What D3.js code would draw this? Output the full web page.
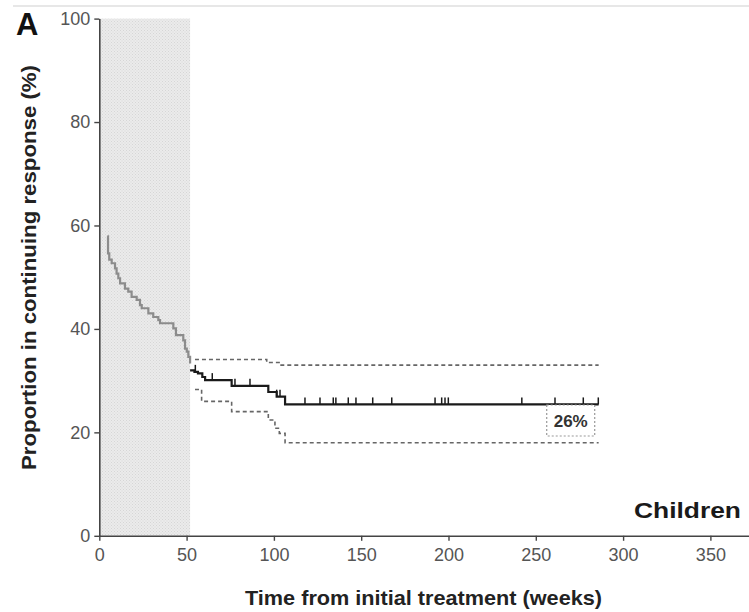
<!DOCTYPE html>
<html><head><meta charset="utf-8">
<script src="https://cdn.jsdelivr.net/npm/d3@7"></script>
<style>body{margin:0;background:#fff}svg{display:block}</style>
</head><body>
<svg id="c" width="749" height="612"></svg>
<script>
// ---- data ----
const xTicks = [0, 50, 100, 150, 200, 250, 300, 350];
const yTicks = [0, 20, 40, 60, 80, 100];
const shadeWeeks = [0, 52];
// early KM segment (gray, inside shaded induction period)
const earlyTimes  = [4.6, 5.0, 5.7, 7.1, 9.0, 9.9, 10.9, 11.9, 14.7, 16.6, 18.5, 21.4, 23.3, 24.3, 28.1, 30.9, 33.8, 34.8, 42.4, 43.9, 48.1, 49.1, 50.1, 51.0, 52.0];
const earlyValues = [57.9, 54.6, 53.4, 52.7, 51.7, 50.7, 49.8, 48.8, 47.8, 47.2, 46.2, 45.6, 44.6, 44.0, 43.0, 42.3, 41.7, 41.1, 40.1, 38.8, 37.8, 36.2, 35.6, 34.6, 33.3];
// later KM segment (black)
const lateTimes  = [52.0, 54.5, 56.5, 59.0, 60.6, 75.8, 96.8, 101.6, 106.4, 286];
const lateValues = [32.0, 31.7, 31.4, 30.7, 30.1, 29.0, 27.8, 26.9, 25.4, 25.4];
// confidence limits
const upperTimes  = [54.8, 95.9, 103.5, 286];
const upperValues = [34.1, 33.5, 33.0, 33.0];
const lowerTimes  = [54.8, 58.6, 75.8, 96.8, 100.6, 103.1, 106.4, 286];
const lowerValues = [28.3, 26.0, 24.0, 22.4, 20.8, 19.8, 18.0, 18.0];
// censoring marks
const censorTimes = [55, 64.7, 77.7, 86.3, 101.6, 103.5, 117.8, 126.4, 134, 135.5, 142.6, 147, 156.6, 167.5, 192.3, 196.1, 198, 199.9, 242, 261, 277.2, 285.8];
const finalLabel = "26%";
const finalLabelAt = [270, 22.2];

// ---- drawing ----
const FONT = "Liberation Sans, Arial, Helvetica, sans-serif";
const svg = d3.select("#c");
const x = d3.scaleLinear().domain([0, 372]).range([99.3, 748.8]);
const y = d3.scaleLinear().domain([0, 100]).range([535.8, 18.6]);

// top thin rule
svg.append("line").attr("x1", 13).attr("x2", 749).attr("y1", 6).attr("y2", 6)
  .attr("stroke", "#cfcfcf").attr("stroke-width", 1);

// shading pattern
const defs = svg.append("defs");
const pat = defs.append("pattern").attr("id", "dots").attr("width", 3).attr("height", 3)
  .attr("patternUnits", "userSpaceOnUse");
pat.append("rect").attr("width", 3).attr("height", 3).attr("fill", "#ebebeb");
pat.append("rect").attr("width", 1).attr("height", 1).attr("fill", "#d6d6d6");
pat.append("rect").attr("x", 1.5).attr("y", 1.5).attr("width", 1).attr("height", 1).attr("fill", "#dadada");

svg.append("rect")
  .attr("x", x(shadeWeeks[0])).attr("y", y(100))
  .attr("width", x(shadeWeeks[1]) - x(shadeWeeks[0]))
  .attr("height", y(0) - y(100))
  .attr("fill", "url(#dots)");

const step = (ts, vs) => d3.line().curve(d3.curveStepAfter)
  .x((d, i) => x(ts[i])).y((d, i) => y(vs[i]))(ts);

// CIs
svg.append("path").attr("d", step(upperTimes, upperValues))
  .attr("fill", "none").attr("stroke", "#666").attr("stroke-width", 1.6).attr("stroke-dasharray", "4,3");
svg.append("path").attr("d", step(lowerTimes, lowerValues))
  .attr("fill", "none").attr("stroke", "#666").attr("stroke-width", 1.6).attr("stroke-dasharray", "4,3");

// KM curves
svg.append("path").attr("d", step(earlyTimes, earlyValues))
  .attr("fill", "none").attr("stroke", "#8c8c8c").attr("stroke-width", 2.2);
svg.append("path").attr("d", step(lateTimes, lateValues))
  .attr("fill", "none").attr("stroke", "#1a1a1a").attr("stroke-width", 2.2);

// censor ticks
const valueAt = t => { let v = lateValues[0]; lateTimes.forEach((tt, i) => { if (tt <= t) v = lateValues[i]; }); return v; };
svg.append("g").selectAll("line").data(censorTimes).join("line")
  .attr("x1", d => x(d)).attr("x2", d => x(d))
  .attr("y1", d => y(valueAt(d))).attr("y2", d => y(valueAt(d)) - 7)
  .attr("stroke", "#1a1a1a").attr("stroke-width", 1.5);

// axes
const axX = svg.append("g").attr("transform", `translate(0,${y(0)})`)
  .call(d3.axisBottom(x).tickValues(xTicks).tickSize(5).tickPadding(7).tickSizeOuter(0));
const axY = svg.append("g").attr("transform", `translate(${x(0)},0)`)
  .call(d3.axisLeft(y).tickValues(yTicks).tickSize(5).tickPadding(4).tickSizeOuter(0));
[axX, axY].forEach(a => {
  a.select(".domain").attr("stroke", "#444").attr("stroke-width", 1.6);
  a.selectAll(".tick line").attr("stroke", "#444").attr("stroke-width", 1.4);
  a.selectAll(".tick text").attr("fill", "#555").attr("font-family", FONT)
    .attr("font-size", 18);
});

// 26% box
const bx = x(finalLabelAt[0]), by = y(finalLabelAt[1]);
svg.append("rect").attr("x", bx - 24).attr("y", by - 16).attr("width", 48).attr("height", 31)
  .attr("fill", "#fff").attr("stroke", "#999").attr("stroke-width", 1.2).attr("stroke-dasharray", "2,2");
svg.append("text").attr("x", bx).attr("y", by + 6).attr("text-anchor", "middle")
  .attr("font-family", FONT).attr("font-weight", "bold")
  .attr("font-size", 17).attr("fill", "#333").text(finalLabel);

// labels
svg.append("text").attr("x", 16).attr("y", 35)
  .attr("font-family", FONT).attr("font-weight", "bold")
  .attr("font-size", 31).attr("fill", "#111").text("A");
svg.append("text").attr("x", 634).attr("y", 518)
  .attr("font-family", FONT).attr("font-weight", "bold")
  .attr("font-size", 22).attr("textLength", 107).attr("lengthAdjust", "spacingAndGlyphs")
  .attr("fill", "#1a1a1a").text("Children");
svg.append("text").attr("x", 245).attr("y", 605)
  .attr("font-family", FONT).attr("font-weight", "bold")
  .attr("font-size", 20.5).attr("textLength", 357).attr("lengthAdjust", "spacingAndGlyphs")
  .attr("fill", "#222").text("Time from initial treatment (weeks)");
svg.append("text").attr("transform", "translate(36,470) rotate(-90)")
  .attr("font-family", FONT).attr("font-weight", "bold")
  .attr("font-size", 20.5).attr("textLength", 405).attr("lengthAdjust", "spacingAndGlyphs")
  .attr("fill", "#222").text("Proportion in continuing response (%)");
</script>
</body></html>
